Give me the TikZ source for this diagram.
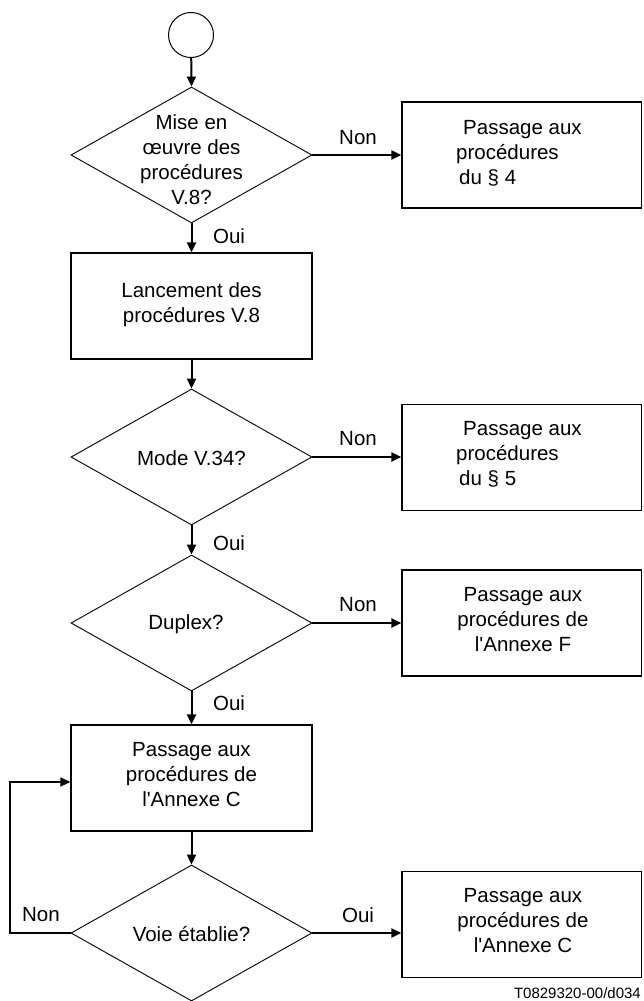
\documentclass[tikz,border=0pt]{standalone}
\usepackage{fontspec}
\setmainfont{Liberation Sans}
\usetikzlibrary{shapes.geometric,arrows.meta,calc}
\begin{document}
\begin{tikzpicture}[x=1pt,y=-1pt,
  box/.style={draw,line width=1.2pt,rectangle,inner sep=0pt,minimum width=241pt,minimum height=106pt},
  rbox/.style={box,minimum width=239.5pt},
  dia/.style={draw,line width=0.9pt,diamond,inner sep=0pt,minimum width=241pt,minimum height=136pt},
  txt/.style={font=\fontsize{20.5}{25}\selectfont,align=center,inner sep=0pt},
  ltxt/.style={font=\fontsize{20.5}{25}\selectfont,align=left,inner sep=0pt,anchor=west},
  lbl/.style={font=\fontsize{20.5}{25}\selectfont,inner sep=0pt},
  arr/.style={line width=2pt,-{Triangle[length=10pt,width=9pt]}},
  thinarr/.style={line width=1.2pt,-{Triangle[length=10pt,width=9pt]}},
]
\useasboundingbox (0,0) rectangle (643,1001);

% start
\node[draw,line width=1pt,ellipse,minimum width=45pt,minimum height=45pt,inner sep=0pt] (start) at (191,35) {};

% decision 1
\node[dia] (d1) at (191.5,155) {};
\node[txt] (t1) at (191.5,160) {Mise en\\œuvre des\\procédures\\V.8?};
\node[rbox] (r1) at (521.75,155) {};
\node[ltxt] (tr1) at (456,153) {\hspace{7pt}Passage aux\\procédures\\\hspace{3pt}du § 4};

% box 2
\node[box] (b2) at (191.5,306) {};
\node[txt] (tb2) at (191.5,305) {Lancement des\\procédures V.8};

% decision 2
\node[dia] (d2) at (191.5,457) {};
\node[txt] (t2) at (191.5,458) {Mode V.34?};
\node[rbox] (r2) at (521.75,457.5) {};
\node[ltxt] (tr2) at (456,454) {\hspace{7pt}Passage aux\\procédures\\\hspace{3pt}du § 5};

% decision 3
\node[dia] (d3) at (191.5,623) {};
\node[txt] (t3) at (186,624) {Duplex?};
\node[rbox] (r3) at (521.75,623) {};
\node[txt] (tr3) at (523,620) {Passage aux\\procédures de\\l\textquotesingle Annexe F};

% box 5
\node[box] (b5) at (191.5,778) {};
\node[txt] (tb5) at (191.5,775) {Passage aux\\procédures de\\l\textquotesingle Annexe C};

% decision 4
\node[dia] (d4) at (191.5,933) {};
\node[txt] (t4) at (191.5,934) {Voie établie?};
\node[rbox] (r4) at (521.75,924.5) {};
\node[txt] (tr4) at (523,921) {Passage aux\\procédures de\\l\textquotesingle Annexe C};

\coordinate (loopc) at (10,782);

% connectors
\draw[arr] (start) -- (d1.north);
\draw[arr] (d1.south) -- (b2.north);
\draw[arr] (d1.east) -- (r1.west);
\draw[arr] (b2.south) -- (d2.north);
\draw[arr] (d2.east) -- (d2.east -| r2.west);
\draw[arr] (d2.south) -- (d3.north);
\draw[arr] (d3.east) -- (r3.west);
\draw[arr] (d3.south) -- (b5.north);
\draw[arr] (b5.south) -- (d4.north);
\draw[arr] (d4.east) -- (d4.east -| r4.west);
\draw[thinarr] (d4.west) -| (loopc) -- (loopc -| b5.west);

% labels
\node[lbl] (n1) at (358,138) {Non};
\node[lbl] (o1) at (229,236) {Oui};
\node[lbl] (n2) at (358,439) {Non};
\node[lbl] (o2) at (229,543) {Oui};
\node[lbl] (n3) at (358,605) {Non};
\node[lbl] (o3) at (229,703) {Oui};
\node[lbl] (o4) at (358,915) {Oui};
\node[lbl] (n4) at (41,915) {Non};

\node[font=\fontsize{15}{18}\selectfont,inner sep=0pt,anchor=east] (ref) at (641,993) {T0829320-00/d034};
\end{tikzpicture}
\end{document}
